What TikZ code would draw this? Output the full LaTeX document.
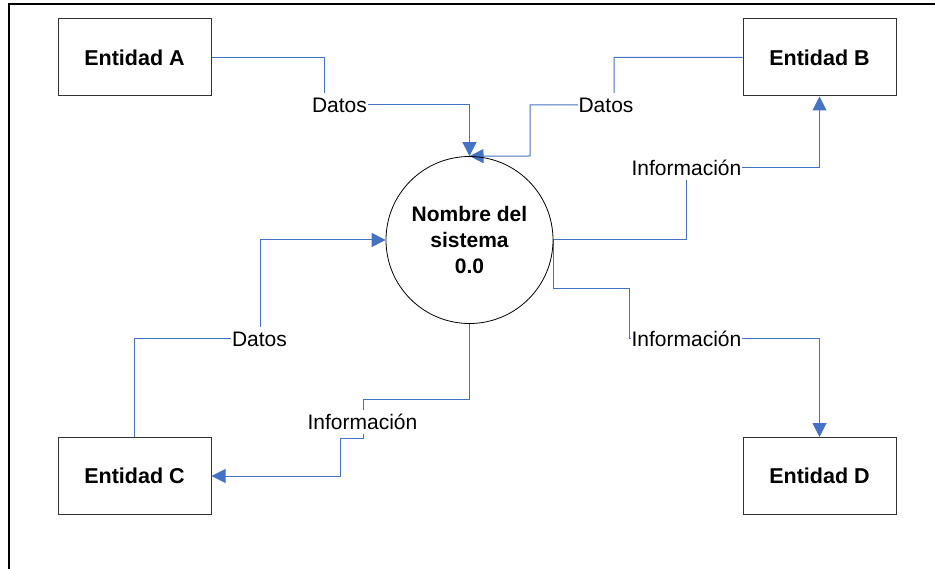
\documentclass[tikz,border=0pt]{standalone}
\usepackage{fontspec}
\setmainfont{Liberation Sans}
\usetikzlibrary{arrows.meta,backgrounds}
\definecolor{flowblue}{RGB}{68,114,196}
\definecolor{boxgray}{RGB}{50,50,50}
\tikzset{
  entity/.style={draw=boxgray,line width=1pt,minimum width=153pt,minimum height=77pt,inner sep=0pt,
    font=\bfseries\fontsize{21.5}{25}\selectfont},
  proc/.style={draw=black,line width=0.8pt,circle,minimum size=167pt,inner sep=0pt,align=center,
    font=\bfseries\fontsize{21}{26}\selectfont},
  lbl/.style={fill=white,inner xsep=1pt,inner ysep=1.5pt,text height=18pt,text depth=3pt,
    font=\fontsize{21}{25}\selectfont},
  flow/.style={draw=flowblue,line width=1pt,-{Triangle[length=14pt,width=14pt]}},
  frame/.style={draw=black,line width=2pt}
}
\begin{document}
\begin{tikzpicture}[x=1pt,y=-1pt]
\useasboundingbox (0,0) rectangle (935,569);
\draw[frame] (9,569) -- (9,4) -- (936,4);

\node[entity] (A) at (134.5,57.5) {Entidad A};
\node[entity] (B) at (819.5,57.5) {Entidad B};
\node[entity] (C) at (134.5,476) {Entidad C};
\node[entity] (D) at (819.5,476) {Entidad D};
\node[proc] (S) at (469.5,240) {Nombre del\\sistema\\0.0};

\node[lbl] (dA) at (339.5,105) {Datos};
\node[lbl] (dB) at (606,105) {Datos};
\node[lbl] (iB) at (686.5,168) {Información};
\node[lbl] (iD) at (686.5,339) {Información};
\node[lbl] (dC) at (259.5,339) {Datos};
\node[lbl] (iC) at (362.5,422) {Información};

\begin{scope}[on background layer]
\draw[flow] (A.east) -| (324,105) -| (S.north);
\draw[flow] (B.west) -| (614,105) -| (530,156) -- (S.north);
\draw[flow] (S.east) -| (686,168) -| (B.south);
\draw[flow] (S.east) |- (629,289) -- (629,339) -| (D.north);
\draw[flow] (C.north) |- (260,339) |- (S.west);
\draw[flow] (S.south) |- (363,400) -- (363,438) -| (340,476) -- (C.east);
\end{scope}
\end{tikzpicture}
\end{document}
